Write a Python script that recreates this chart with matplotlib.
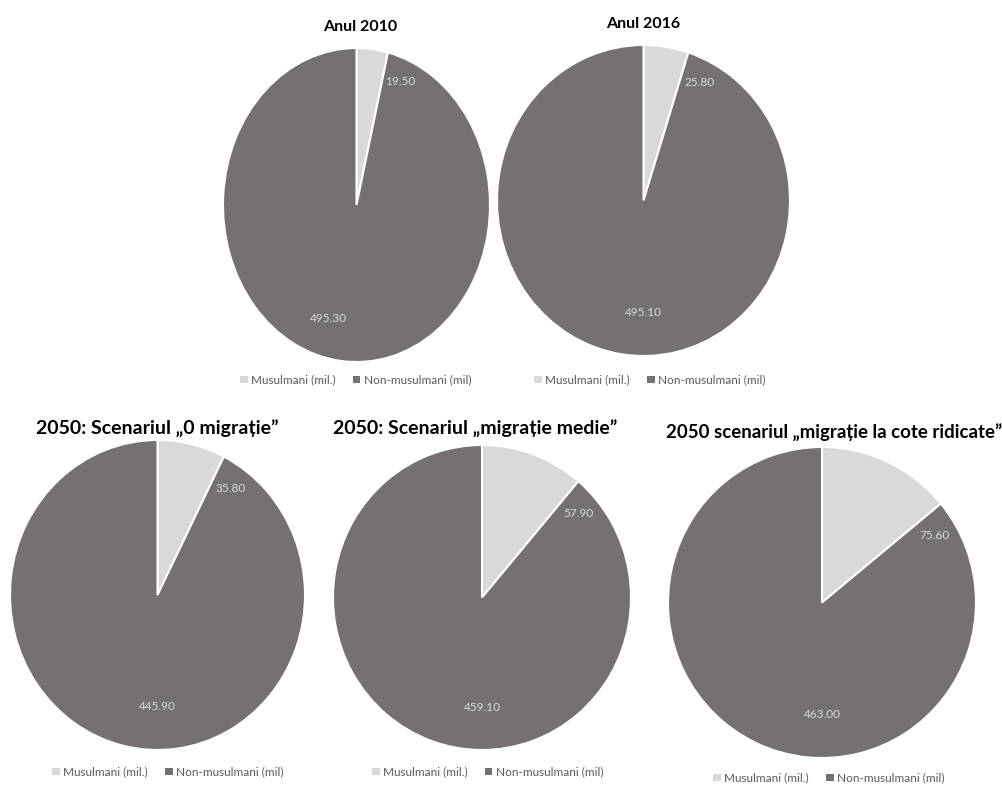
import matplotlib
matplotlib.use('Agg')
import numpy as np
import matplotlib.pyplot as plt
from matplotlib.patches import Patch

plt.rcParams['font.family'] = ['Lato', 'DejaVu Sans']

W, H = 1003, 785

titles = ['Anul 2010', 'Anul 2016',
          '2050: Scenariul \u201e0 migra\u021bie\u201d',
          '2050: Scenariul \u201emigra\u021bie medie\u201d',
          '2050 scenariul \u201emigra\u021bie la cote ridicate\u201d']
categories = ['Musulmani (mil.)', 'Non-musulmani (mil)']
muslims = [19.50, 25.80, 35.80, 57.90, 75.60]
non_muslims = [495.30, 495.10, 445.90, 459.10, 463.00]

light = '#d9d9d9'
dark = '#767171'

# pie boxes in pixels: left, right, top, bottom
boxes = [(223, 490, 48, 362), (497, 790, 45, 356),
         (10, 305, 440, 750), (333, 631, 445, 750), (668, 976, 447, 758)]
title_pos = [(360, 27), (643, 24), (157, 428), (475, 428), (834, 432)]
title_size = [11.5, 11.5, 14, 14, 13.4]
legend_pos = [(356, 380), (650, 380), (168, 772), (488, 772), (829, 778)]
big_dx = [-0.21, 0, 0, 0, 0]

fig = plt.figure(figsize=(W / 100, H / 100), dpi=100)
fig.patch.set_facecolor('white')

for i in range(5):
    l, r, t, b = boxes[i]
    ax = fig.add_axes([l / W, 1 - b / H, (r - l) / W, (b - t) / H])
    vals = [muslims[i], non_muslims[i]]
    wedges, _ = ax.pie(vals, colors=[light, dark], startangle=90,
                       counterclock=False, radius=1,
                       wedgeprops=dict(edgecolor='white', linewidth=1.5))
    ax.set_xlim(-1, 1)
    ax.set_ylim(-1, 1)
    ax.set_aspect('auto')
    ax.axis('off')

    # small slice label just past the wedge boundary
    end = np.deg2rad(wedges[0].theta1 - 9)
    ax.text(0.85 * np.cos(end), 0.85 * np.sin(end), f'{muslims[i]:.2f}',
            ha='center', va='center', color=light, fontsize=8.5)
    ax.text(big_dx[i], -0.72, f'{non_muslims[i]:.2f}',
            ha='center', va='center', color=light, fontsize=8.5)

    tx, ty = title_pos[i]
    fig.text(tx / W, 1 - ty / H, titles[i], ha='center', va='center',
             fontsize=title_size[i], fontweight='bold', color='black')

    lx, ly = legend_pos[i]
    handles = [Patch(facecolor=light, edgecolor='none'),
               Patch(facecolor=dark, edgecolor='none')]
    fig.legend(handles, categories, loc='center',
               bbox_to_anchor=(lx / W, 1 - ly / H), ncol=2, frameon=False,
               fontsize=8.5, labelcolor='#595959', handlelength=0.6,
               handleheight=0.6, handletextpad=0.3, columnspacing=1.5)

plt.savefig('out.png', dpi=100)
plt.close()
